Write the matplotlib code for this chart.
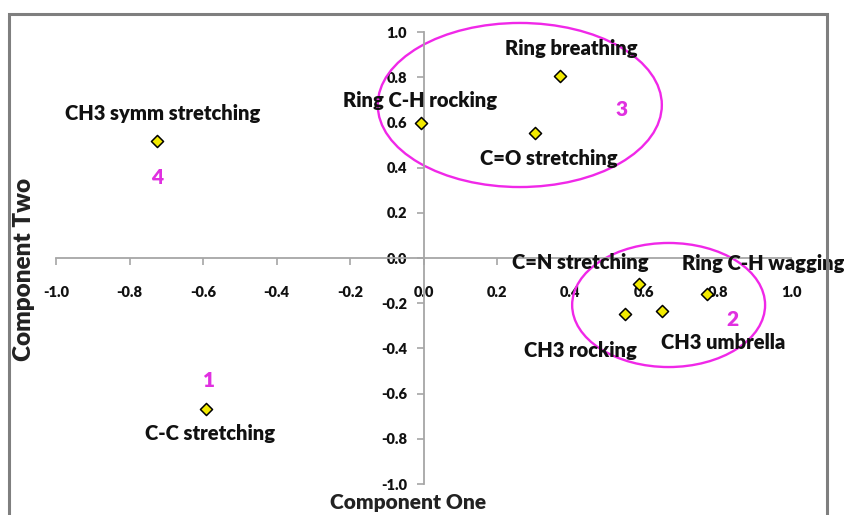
import matplotlib
matplotlib.use("Agg")
import matplotlib.pyplot as plt
from matplotlib.patches import Ellipse, Rectangle

# Loadings of each vibrational mode on the first two components
modes = ["Ring breathing", "Ring C-H rocking", "C=O stretching", "CH3 symm stretching",
         "C=N stretching", "Ring C-H wagging", "CH3 rocking", "CH3 umbrella", "C-C stretching"]
comp_one = [0.371, -0.007, 0.303, -0.725, 0.586, 0.771, 0.548, 0.649, -0.592]
comp_two = [0.805, 0.597, 0.553, 0.518, -0.115, -0.159, -0.248, -0.235, -0.668]

# Group numbers and where they sit
group_ids = ["1", "2", "3", "4"]
group_x = [-0.584, 0.842, 0.540, -0.725]
group_y = [-0.544, -0.274, 0.655, 0.358]

# Ellipses around groups 3 and 2: centre x, centre y, width, height
ellipse_cx = [0.262, 0.667]
ellipse_cy = [0.677, -0.208]
ellipse_w = [0.773, 0.525]
ellipse_h = [0.726, 0.549]

ticks = [-1.0, -0.8, -0.6, -0.4, -0.2, 0.0, 0.2, 0.4, 0.6, 0.8, 1.0]

# label offsets (points) from each marker
label_offsets = [(8.6, 20.2), (-0.7, 16.6), (10, -18), (4.3, 19.4), (-42.5, 15.8),
                 (40.3, 21.6), (-31.7, -25.9), (43.9, -22.3), (2.9, -18)]

W, H = 844, 515
fig = plt.figure(figsize=(W / 100, H / 100), dpi=100)
fig.patch.set_facecolor("white")

# outer frame
fig.patches.append(Rectangle((9 / W, -0.05), (827 - 9) / W, 1 - 14 / H + 0.05,
                             transform=fig.transFigure, fill=False,
                             edgecolor="#7f7f7f", linewidth=2.2))

ax = fig.add_axes([56 / W, (H - 484) / H, 735 / W, 452 / H])
ax.set_xlim(-1.0, 1.0)
ax.set_ylim(-1.0, 1.0)
ax.patch.set_alpha(0)

for s in ["top", "right"]:
    ax.spines[s].set_visible(False)
ax.spines["left"].set_position(("data", 0))
ax.spines["bottom"].set_position(("data", 0))
for s in ["left", "bottom"]:
    ax.spines[s].set_color("#a6a6a6")
    ax.spines[s].set_linewidth(1.3)

ax.set_xticks(ticks)
ax.set_yticks(ticks)
ax.set_xticklabels([f"{t:.1f}" for t in ticks])
ax.set_yticklabels([f"{t:.1f}" for t in ticks])
for lab in ax.get_xticklabels() + ax.get_yticklabels():
    lab.set_fontfamily("Lato")
    lab.set_fontweight("heavy")
    lab.set_fontsize(10.5)
    lab.set_color("#111111")
ax.tick_params(axis="x", direction="out", length=5, width=1.2, color="#a6a6a6", pad=15)
ax.tick_params(axis="y", direction="out", length=5, width=1.2, color="#a6a6a6", pad=7)

for cx, cy, w, h in zip(ellipse_cx, ellipse_cy, ellipse_w, ellipse_h):
    ax.add_patch(Ellipse((cx, cy), w, h, fill=False, edgecolor="#f028e8",
                         linewidth=1.7, clip_on=False, zorder=2))

ax.scatter(comp_one, comp_two, marker="D", s=38, facecolor="#f2ea00",
           edgecolor="black", linewidth=1.1, zorder=4, clip_on=False)

for name, x, y, (dx, dy) in zip(modes, comp_one, comp_two, label_offsets):
    ax.annotate(name, (x, y), xytext=(dx, dy), textcoords="offset points",
                ha="center", va="center", fontsize=14.5, fontweight="heavy",
                family="Lato", color="#111111", zorder=5, annotation_clip=False)

for g, x, y in zip(group_ids, group_x, group_y):
    ax.text(x, y, g, ha="center", va="center", fontsize=15, fontweight="heavy",
            family="Lato", color="#e030e0", zorder=5)

fig.text(408 / W, 1 - 502 / H, "Component One", ha="center", va="center",
         fontsize=15, fontweight="heavy", family="Lato", color="#222222")
fig.text(24 / W, 1 - 269 / H, "Component Two", ha="center", va="center",
         rotation=90, fontsize=17.5, fontweight="heavy", family="Lato",
         color="#222222")

fig.savefig("out.png", dpi=100)
